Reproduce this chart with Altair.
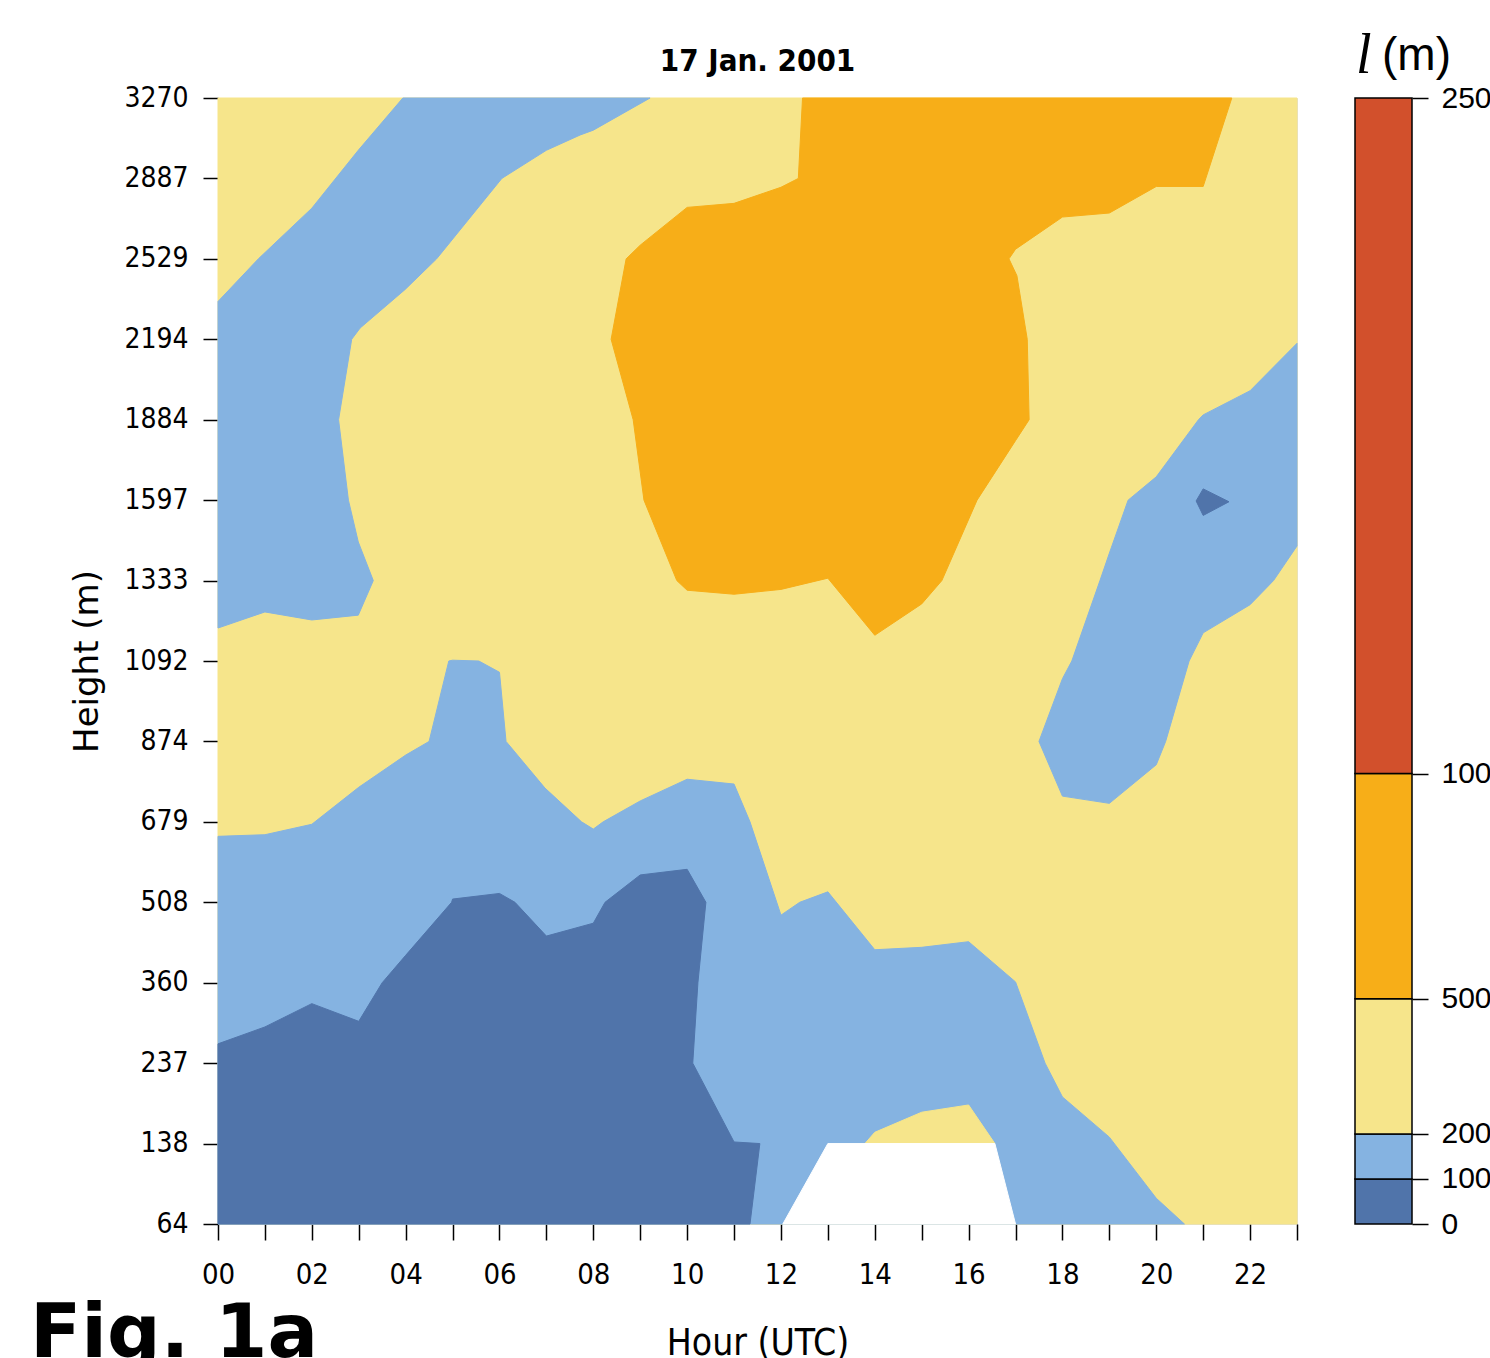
import altair as alt
import pandas as pd

# ---------------- data ----------------
HEIGHT_LEVELS = [64, 138, 237, 360, 508, 679, 874, 1092, 1333, 1597, 1884, 2194, 2529, 2887, 3270]
HOUR_TICKS = list(range(24))

CLASS_NAMES = ["0-100", "100-200", "200-500", "500-1000", "1000-2500", "missing"]
CLASS_COLORS = ["#5074AA", "#85B3E1", "#F6E58B", "#F7AE18", "#D2502C", "#FFFFFF"]
CBAR_BOUNDS = [0, 100, 200, 500, 1000, 2500]

TITLE = "17 Jan. 2001"
X_TITLE = "Hour (UTC)"
Y_TITLE = "Height (m)"
CBAR_SYMBOL = "l"
CBAR_UNIT = "(m)"
FIG_LABEL = "Fig. 1a"

# contour regions as (hour, level index) vertices
FRAME_200_500 = [(0, 0), (23, 0), (23, 14), (0, 14)]

BAND_100_200_UPPER_LEFT = [
    (3.94, 14), (9.21, 14), (8.0, 13.6), (7.72, 13.54), (7.0, 13.35), (6.05, 13.0),
    (4.66, 12.0), (3.99, 11.62), (3.03, 11.14), (2.85, 11.0), (2.57, 10.0), (2.78, 9.0),
    (2.99, 8.48), (3.31, 8.0), (2.99, 7.57), (2.0, 7.51), (1.0, 7.61), (0, 7.41),
    (0, 11.47), (0.86, 12.0), (2.0, 12.63), (2.99, 13.35),
]
BAND_100_200_LOWER = [
    (0, 0), (0, 4.82), (1, 4.84), (2, 4.97), (3, 5.43), (4, 5.83), (4.5, 6.0),
    (4.92, 7.0), (5.0, 7.01), (5.56, 7.0), (6.0, 6.86), (6.14, 6.0), (6.97, 5.42),
    (7.75, 5.0), (8.0, 4.91), (8.21, 5.0), (9.0, 5.26), (10.0, 5.53), (11.0, 5.47),
    (11.34, 5.0), (11.91, 4.0), (12.0, 3.84), (12.4, 4.0), (13.0, 4.13), (14.0, 3.41),
    (15.0, 3.44), (16.0, 3.51), (17.0, 3.01), (17.63, 2.0), (18.0, 1.58), (19.0, 1.08),
    (20.0, 0.32), (20.6, 0),
]
BAND_100_200_RIGHT = [
    (23, 10.95), (22, 10.36), (21, 10.06), (20.9, 10.0), (20.0, 9.29), (19.4, 9.0),
    (19.0, 8.34), (18.8, 8.0), (18.2, 7.0), (18.0, 6.78), (17.5, 6.0), (18.0, 5.32),
    (19.0, 5.23), (20.0, 5.71), (20.2, 6.0), (20.7, 7.0), (21.0, 7.35), (22.0, 7.7),
    (22.5, 8.0), (23, 8.43),
]
CORE_0_100_LOWER = [
    (0, 0), (0, 2.24), (1, 2.45), (2, 2.74), (3, 2.52), (3.5, 3.0), (4, 3.34),
    (4.98, 4.0), (5, 4.04), (6, 4.11), (6.33, 4.0), (7, 3.58), (8, 3.74), (8.25, 4.0),
    (9, 4.34), (10, 4.41), (10.4, 4.0), (10.23, 3.0), (10.12, 2.0), (11, 1.02),
    (11.55, 1.0), (11.34, 0),
]
CORE_0_100_RIGHT = [(21.0, 9.14), (21.55, 8.98), (21.0, 8.81), (20.85, 8.99)]
CORE_500_1000 = [
    (12.46, 14), (21.61, 14), (21.0, 12.9), (20.0, 12.9), (19.0, 12.57), (18.0, 12.52),
    (17.0, 12.12), (16.86, 12.0), (17.03, 11.79), (17.25, 11.0), (17.29, 10.0),
    (17.0, 9.74), (16.18, 9.0), (15.43, 8.0), (15.0, 7.71), (14.0, 7.32), (13.0, 8.03),
    (12.0, 7.89), (11.0, 7.83), (10.0, 7.88), (9.78, 8.0), (9.08, 9.0), (8.85, 10.0),
    (8.38, 11.0), (8.7, 12.0), (9.0, 12.17), (10.0, 12.64), (11.0, 12.69), (12.0, 12.89),
    (12.37, 13.0),
]
ISLAND_200_500 = [(13.79, 1.0), (14.0, 1.14), (15.0, 1.39), (16.0, 1.48), (16.56, 1.0)]
MISSING = [(12.04, 0), (13.0, 1.0), (16.56, 1.0), (17.0, 0)]

LAYERS = [
    [("frame", "200-500", FRAME_200_500)],
    [("lb_ul", "100-200", BAND_100_200_UPPER_LEFT),
     ("lb_lo", "100-200", BAND_100_200_LOWER),
     ("lb_r", "100-200", BAND_100_200_RIGHT)],
    [("db_lo", "0-100", CORE_0_100_LOWER),
     ("db_r", "0-100", CORE_0_100_RIGHT),
     ("or", "500-1000", CORE_500_1000)],
    [("isl", "200-500", ISLAND_200_500),
     ("miss", "missing", MISSING)],
]

# ---------------- styling ----------------
NARROW = "'Liberation Sans Narrow', 'DejaVu Sans Condensed', 'Liberation Sans', sans-serif"
W, H = 1079, 1126

color_scale = alt.Scale(domain=CLASS_NAMES, range=CLASS_COLORS)

label_array = "[" + ",".join("'%d'" % v for v in HEIGHT_LEVELS) + "]"

x_axis = alt.Axis(
    values=HOUR_TICKS, format="02d",
    labelExpr="datum.value % 2 === 0 ? datum.label : ''",
    tickSize=16, tickWidth=1.5, tickColor="black", domain=False, grid=False,
    labelFont=NARROW, labelFontSize=29, labelPadding=20, labelColor="black",
    labelFlush=False, labelOverlap=False,
    title=X_TITLE, titleFont=NARROW, titleFontSize=37, titleFontWeight="normal",
    titleColor="black", titleX=W / 2, titleY=130, titleAlign="center",
    titleBaseline="alphabetic",
)
y_axis = alt.Axis(
    values=list(range(len(HEIGHT_LEVELS))),
    labelExpr=label_array + "[datum.value]",
    tickSize=15, tickWidth=1.5, tickColor="black", domain=False, grid=False,
    labelFont=NARROW, labelFontSize=28, labelPadding=15, labelColor="black",
    labelFlush=False, labelOverlap=False, labelBaseline="middle",
    title=Y_TITLE, titleFont="DejaVu Sans", titleFontSize=34, titleFontWeight="normal",
    titleColor="black", titleX=-131, titleY=H / 2, titleAngle=270,
    titleAlign="center", titleBaseline="middle",
)


def layer_df(polys):
    rows = []
    for name, cls, pts in polys:
        for k, (hx, iy) in enumerate(pts):
            rows.append({"poly": name, "cls": cls, "k": k, "hour": hx, "idx": iy})
    return pd.DataFrame(rows)


poly_layers = []
for polys in LAYERS:
    poly_layers.append(
        alt.Chart(layer_df(polys)).mark_line(interpolate="linear-closed", strokeWidth=1).encode(
            x=alt.X("hour:Q", scale=alt.Scale(domain=[0, 23], nice=False, zero=False), axis=x_axis),
            y=alt.Y("idx:Q", scale=alt.Scale(domain=[0, 14], nice=False, zero=False), axis=y_axis),
            detail="poly:N",
            order=alt.Order("k:Q"),
            fill=alt.Fill("cls:N", scale=color_scale, legend=None),
            stroke=alt.Stroke("cls:N", scale=color_scale, legend=None),
        )
    )
contours = alt.layer(*poly_layers)

cbar_df = pd.DataFrame({
    "lo": CBAR_BOUNDS[:-1],
    "hi": CBAR_BOUNDS[1:],
    "cls": CLASS_NAMES[:5],
})
cbar_axis = alt.Axis(
    orient="right", offset=115, values=CBAR_BOUNDS, format="d",
    tickSize=16, tickWidth=1.5, tickColor="black", domain=False, grid=False,
    labelFont="Liberation Sans", labelFontSize=30, labelPadding=13, labelColor="black",
    labelFlush=False, labelOverlap=False, labelBaseline="middle", title=None,
)
cbar = alt.Chart(cbar_df).mark_rect(stroke="black", strokeWidth=1.5).encode(
    x=alt.value(1137), x2=alt.value(1194),
    y=alt.Y("lo:Q", scale=alt.Scale(domain=[0, 2500], nice=False, zero=True), axis=cbar_axis),
    y2="hi:Q",
    fill=alt.Fill("cls:N", scale=color_scale, legend=None),
)

title = alt.Chart(pd.DataFrame({"t": [TITLE]})).mark_text(
    font=NARROW, fontWeight="bold", fontSize=31, align="center",
    baseline="alphabetic", color="black",
).encode(text="t:N", x=alt.value(W / 2), y=alt.value(-27))
sym = alt.Chart(pd.DataFrame({"t": [CBAR_SYMBOL]})).mark_text(
    font="Liberation Serif", fontStyle="italic", fontSize=56, align="left",
    baseline="alphabetic", color="black",
).encode(text="t:N", x=alt.value(1138), y=alt.value(-25))
unit = alt.Chart(pd.DataFrame({"t": [CBAR_UNIT]})).mark_text(
    font="Liberation Sans", fontSize=46, align="left", baseline="alphabetic", color="black",
).encode(text="t:N", x=alt.value(1164), y=alt.value(-28))
fig = alt.Chart(pd.DataFrame({"t": [FIG_LABEL]})).mark_text(
    font="DejaVu Sans", fontWeight="bold", fontSize=75, align="left",
    baseline="alphabetic", color="black",
).encode(text="t:N", x=alt.value(-188), y=alt.value(1259))

chart = alt.layer(contours, cbar, title, sym, unit, fig).resolve_scale(
    y="independent"
).properties(
    width=W, height=H,
    autosize=alt.AutoSizeParams(type="none"),
    padding={"left": 218, "top": 98, "right": 193, "bottom": 134},
).configure_view(
    stroke="black", strokeWidth=2
).configure(background="white")

chart.save("out.html", embed_options={"renderer": "svg", "actions": False})
